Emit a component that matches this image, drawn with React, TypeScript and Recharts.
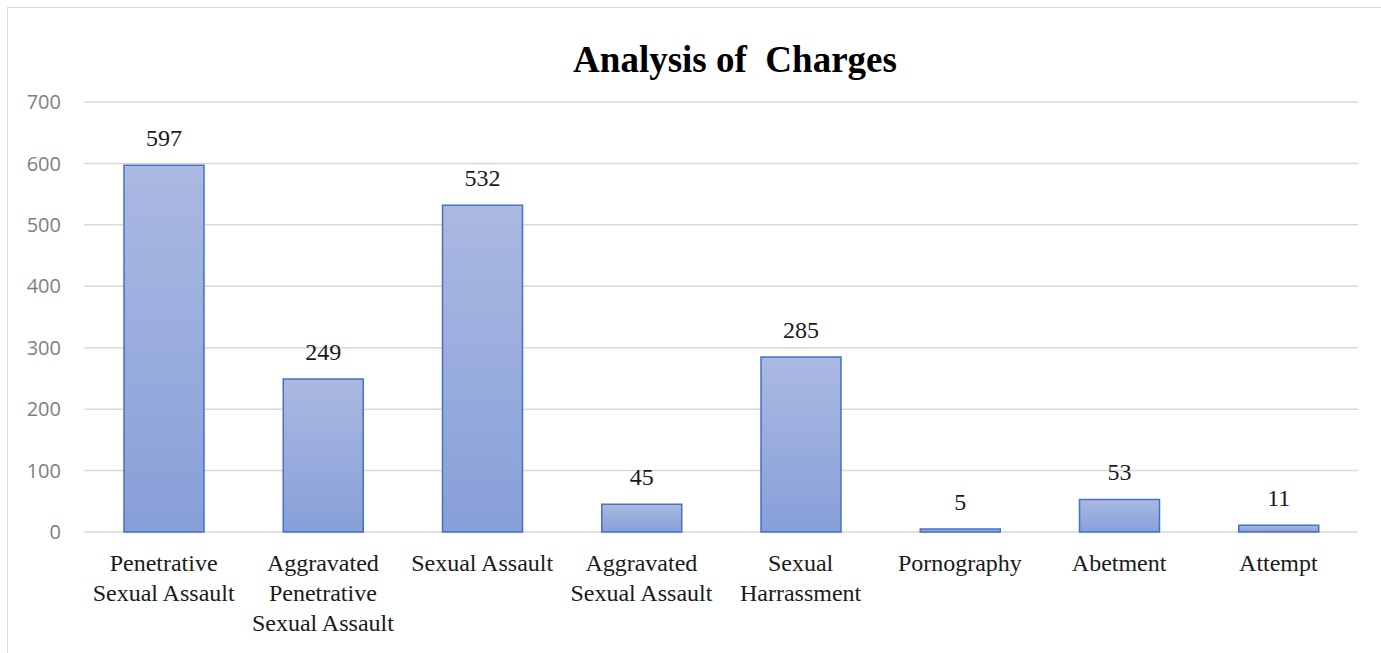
import React from "react";
import { BarChart, Bar, XAxis, YAxis, CartesianGrid, LabelList } from "recharts";

const categories: string[] = [
  "Penetrative Sexual Assault",
  "Aggravated Penetrative Sexual Assault",
  "Sexual Assault",
  "Aggravated Sexual Assault",
  "Sexual Harrassment",
  "Pornography",
  "Abetment",
  "Attempt",
];
const categoryLines: string[][] = [
  ["Penetrative", "Sexual Assault"],
  ["Aggravated", "Penetrative", "Sexual Assault"],
  ["Sexual Assault"],
  ["Aggravated", "Sexual Assault"],
  ["Sexual", "Harrassment"],
  ["Pornography"],
  ["Abetment"],
  ["Attempt"],
];
const counts: number[] = [597, 249, 532, 45, 285, 5, 53, 11];
const yTicks: number[] = [0, 100, 200, 300, 400, 500, 600, 700];
const title = "Analysis of  Charges";

const data = categories.map((c, i) => ({ name: c, value: counts[i], idx: i }));

const SERIF = "'Liberation Serif', 'Times New Roman', serif";

const XTick = (props: any) => {
  const { x, y, payload } = props;
  const lines = categoryLines[payload.index] || [String(payload.value)];
  return (
    <text
      x={x}
      y={y + 39}
      textAnchor="middle"
      fontFamily={SERIF}
      fontSize={24}
      fill="#1a1a1a"
    >
      {lines.map((l, i) => (
        <tspan key={i} x={x} dy={i === 0 ? 0 : 30}>
          {l}
        </tspan>
      ))}
    </text>
  );
};

export default function App() {
  return (
    <div
      style={{
        position: "absolute",
        left: 7,
        top: 7,
        width: 1390,
        height: 660,
        border: "1px solid #d9d9d9",
        background: "#fff",
      }}
    >
      <div style={{ position: "relative", width: 1373, height: 640 }}>
        <BarChart
          width={1373}
          height={640}
          data={data}
          margin={{ top: 94, right: 23, bottom: 0, left: 0 }}
          barCategoryGap="25%"
        >
          <defs>
            <linearGradient id="barGrad" x1="0" y1="0" x2="0" y2="1">
              <stop offset="0%" stopColor="#AAB9E1" />
              <stop offset="100%" stopColor="#879FD9" />
            </linearGradient>
          </defs>
          <CartesianGrid vertical={false} stroke="#d9d9d9" strokeWidth={1.5} />
          <XAxis
            dataKey="name"
            axisLine={false}
            tickLine={false}
            tickSize={0}
            tickMargin={0}
            height={116}
            interval={0}
            tick={<XTick />}
          />
          <YAxis
            domain={[0, 700]}
            ticks={yTicks}
            axisLine={false}
            tickLine={false}
            tickSize={0}
            tickMargin={23}
            width={76}
            interval={0}
            tick={{ fill: "#7f7f7f", fontSize: 20, fontFamily: "'Open Sans', sans-serif" }}
          />
          <Bar
            dataKey="value"
            barSize={80}
            fill="url(#barGrad)"
            stroke="#4472C4"
            strokeWidth={1.5}
            isAnimationActive={false}
          >
            <LabelList
              dataKey="value"
              position="top"
              offset={19}
              fill="#1a1a1a"
              fontSize={24}
              fontFamily={SERIF}
            />
          </Bar>
        </BarChart>
        <svg
          width={1373}
          height={100}
          style={{ position: "absolute", left: 0, top: 0, pointerEvents: "none" }}
        >
          <text
            x={727}
            y={64}
            textAnchor="middle"
            fontFamily={SERIF}
            fontWeight="bold"
            fontSize={37}
            fill="#000"
            style={{ whiteSpace: "pre" }}
          >
            {title}
          </text>
        </svg>
      </div>
    </div>
  );
}
